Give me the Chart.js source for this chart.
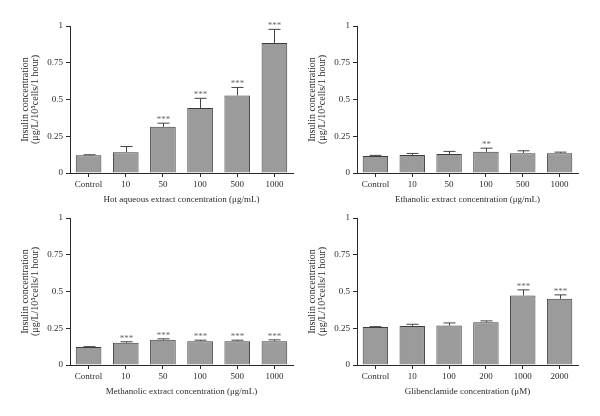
<!DOCTYPE html>
<html>
<head>
<meta charset="UTF-8">
<script src="https://cdn.jsdelivr.net/npm/chart.js"></script>
<style>
  body { margin: 0; background: #fff; }
  #wrap { position: relative; width: 600px; height: 416px; overflow: hidden; }
  canvas { position: absolute; }
</style>
</head>
<body>
<div id="wrap">
  <canvas id="c1" width="300" height="210" style="left:0;top:0"></canvas>
  <canvas id="c2" width="300" height="210" style="left:300px;top:0"></canvas>
  <canvas id="c3" width="300" height="210" style="left:0;top:192px"></canvas>
  <canvas id="c4" width="300" height="210" style="left:300px;top:192px"></canvas>
</div>
<script>
// categories
const extractDoses = ['Control', '10', '50', '100', '500', '1000'];
const glibDoses = ['Control', '10', '100', '200', '1000', '2000'];
const yTitle = ['Insulin concentration', '(μg/L/10⁵cells/1 hour)'];

// hot aqueous extract
const hotMean = [0.12, 0.142, 0.314, 0.442, 0.528, 0.885];
const hotErr = [0.004, 0.038, 0.025, 0.066, 0.054, 0.092];
const hotStars = ['', '', '***', '***', '***', '***'];

// ethanolic extract
const ethMean = [0.115, 0.122, 0.129, 0.144, 0.135, 0.135];
const ethErr = [0.005, 0.011, 0.018, 0.025, 0.016, 0.007];
const ethStars = ['', '', '', '**', '', ''];

// methanolic extract
const metMean = [0.122, 0.151, 0.171, 0.162, 0.162, 0.162];
const metErr = [0.003, 0.007, 0.007, 0.007, 0.007, 0.009];
const metStars = ['', '***', '***', '***', '***', '***'];

// glibenclamide
const gliMean = [0.259, 0.266, 0.268, 0.291, 0.473, 0.45];
const gliErr = [0.002, 0.011, 0.018, 0.009, 0.038, 0.027];
const gliStars = ['', '', '', '', '***', '***'];

const FONT = "'Liberation Serif', 'DejaVu Serif', serif";
const INK = '#2a2a2a';

// upward error bars + significance stars
const errorBars = {
  id: 'errorBars',
  afterDatasetsDraw(chart, args, opts) {
    const ctx = chart.ctx;
    const y = chart.scales.y;
    const meta = chart.getDatasetMeta(0);
    const vals = chart.data.datasets[0].data;
    ctx.save();
    ctx.strokeStyle = '#444';
    ctx.lineWidth = 1;
    meta.data.forEach((bar, i) => {
      const top = y.getPixelForValue(vals[i] + opts.errs[i]);
      const x = Math.round(bar.x) + 0.5;
      ctx.beginPath();
      ctx.moveTo(x, bar.y);
      ctx.lineTo(x, top);
      ctx.moveTo(x - 6, top);
      ctx.lineTo(x + 6, top);
      ctx.stroke();
      if (opts.stars[i]) {
        ctx.fillStyle = '#666';
        ctx.font = '9px ' + FONT;
        ctx.textAlign = 'center';
        ctx.textBaseline = 'alphabetic';
        ctx.fillText(opts.stars[i], x, top - 1);
      }
    });
    ctx.restore();
  }
};

function makeChart(id, labels, means, errs, stars, xTitle, yWidth, padRight, titlePad) {
  new Chart(document.getElementById(id), {
    type: 'bar',
    data: {
      labels: labels,
      datasets: [{
        data: means,
        backgroundColor: '#9b9b9b',
        borderColor: '#3c3c3c',
        borderWidth: 1,
        barPercentage: 0.69,
        categoryPercentage: 1
      }]
    },
    options: {
      responsive: false,
      animation: false,
      layout: { padding: { top: 26, left: 0, right: padRight, bottom: 0 } },
      plugins: {
        legend: { display: false },
        tooltip: { enabled: false },
        errorBars: { errs: errs, stars: stars }
      },
      scales: {
        x: {
          afterFit: s => { s.height = 37; },
          grid: { offset: false, drawOnChartArea: false, tickLength: 4, color: INK },
          border: { color: INK },
          ticks: { color: INK, padding: 2, font: { family: FONT, size: 9 } },
          title: {
            display: true, text: xTitle, color: INK,
            padding: { top: 0, bottom: 5 },
            font: { family: FONT, size: 9 }
          }
        },
        y: {
          min: 0, max: 1,
          afterFit: s => { s.width = yWidth; },
          grid: { drawOnChartArea: false, tickLength: 4, color: INK },
          border: { color: INK },
          ticks: {
            stepSize: 0.25, color: INK, padding: 3,
            font: { family: FONT, size: 9 },
            callback: v => String(Math.round(v * 100) / 100)
          },
          title: {
            display: true, text: yTitle, color: INK,
            padding: { top: titlePad, bottom: 0 },
            font: { family: FONT, size: 10, lineHeight: 1.0 }
          }
        }
      }
    },
    plugins: [errorBars]
  });
}

makeChart('c1', extractDoses, hotMean, hotErr, hotStars,
  'Hot aqueous extract concentration (μg/mL)', 70, 7, 20);
makeChart('c2', extractDoses, ethMean, ethErr, ethStars,
  'Ethanolic extract concentration (μg/mL)', 57, 22, 7);
makeChart('c3', extractDoses, metMean, metErr, metStars,
  'Methanolic extract concentration (μg/mL)', 70, 7, 20);
makeChart('c4', glibDoses, gliMean, gliErr, gliStars,
  'Glibenclamide concentration (μM)', 57, 22, 7);
</script>
</body>
</html>
